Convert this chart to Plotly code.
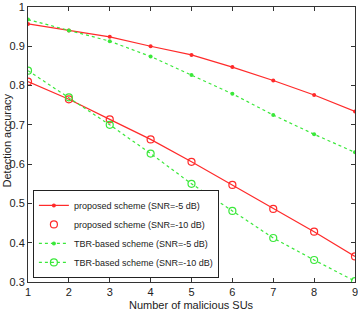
import plotly.graph_objects as go

x_vals = [1, 2, 3, 4, 5, 6, 7, 8, 9]
prop_5 = [0.957, 0.940, 0.924, 0.900, 0.878, 0.847, 0.813, 0.776, 0.734]
prop_10 = [0.810, 0.765, 0.714, 0.663, 0.606, 0.547, 0.486, 0.428, 0.365]
tbr_5 = [0.968, 0.940, 0.913, 0.874, 0.827, 0.779, 0.725, 0.676, 0.630]
tbr_10 = [0.838, 0.770, 0.700, 0.627, 0.550, 0.481, 0.412, 0.356, 0.302]
names = ["proposed scheme (SNR=-5 dB)", "proposed scheme (SNR=-10 dB)",
         "TBR-based scheme (SNR=-5 dB)", "TBR-based scheme (SNR=-10 dB)"]
y_ticks = [0.3, 0.4, 0.5, 0.6, 0.7, 0.8, 0.9, 1]
y_ticktext = ["0.3", "0.4", "0.5", "0.6", "0.7", "0.8", "0.9", "1"]
x_title = "Number of malicious SUs"
y_title = "Detection accuracy"

RED = "#ff2a2a"
GREEN = "#3ae83a"

fig = go.Figure()
fig.add_trace(go.Scatter(x=x_vals, y=prop_5, mode="lines+markers", name=names[0],
                         line=dict(color=RED, width=1.2),
                         marker=dict(symbol="circle", size=4, color=RED)))
fig.add_trace(go.Scatter(x=x_vals, y=prop_10, mode="lines", showlegend=False,
                         line=dict(color=RED, width=1.2)))
fig.add_trace(go.Scatter(x=x_vals, y=prop_10, mode="markers", name=names[1],
                         marker=dict(symbol="circle-open", size=7, color=RED, line=dict(width=1.2))))
fig.add_trace(go.Scatter(x=x_vals, y=tbr_5, mode="lines+markers", name=names[2],
                         line=dict(color=GREEN, width=1.2, dash="dot"),
                         marker=dict(symbol="circle", size=4, color=GREEN)))
fig.add_trace(go.Scatter(x=x_vals, y=tbr_10, mode="lines+markers", name=names[3],
                         line=dict(color=GREEN, width=1.2, dash="dot"),
                         marker=dict(symbol="circle-open", size=7, color=GREEN, line=dict(width=1.2))))

axis_common = dict(showline=True, mirror="ticks", linecolor="#333333", linewidth=1,
                   ticks="inside", ticklen=4, tickcolor="#333333", showgrid=False,
                   zeroline=False, automargin=False, ticklabeloverflow="allow",
                   tickfont=dict(size=11, color="#222222"))

fig.update_layout(
    width=358, height=311,
    margin=dict(l=28, r=3, t=7, b=29),
    paper_bgcolor="white", plot_bgcolor="white",
    font=dict(family="Liberation Sans, Arial, sans-serif", size=11, color="#222222"),
    xaxis=dict(range=[1, 9], tickvals=x_vals, **axis_common),
    yaxis=dict(range=[0.3, 1], tickvals=y_ticks, ticktext=y_ticktext, **axis_common),
    legend=dict(x=0.015, y=0.015, xanchor="left", yanchor="bottom", bgcolor="white",
                bordercolor="#222222", borderwidth=1, font=dict(size=9),
                tracegroupgap=0, itemwidth=30),
    annotations=[
        dict(text=x_title, xref="paper", yref="paper", x=0.5, y=-0.084, yanchor="middle",
             xanchor="center", showarrow=False, font=dict(size=11)),
        dict(text=y_title, xref="paper", yref="paper", x=-0.064, y=0.515, textangle=-90,
             xanchor="center", yanchor="middle", showarrow=False, font=dict(size=11)),
    ],
)

fig.write_html("out.html")
